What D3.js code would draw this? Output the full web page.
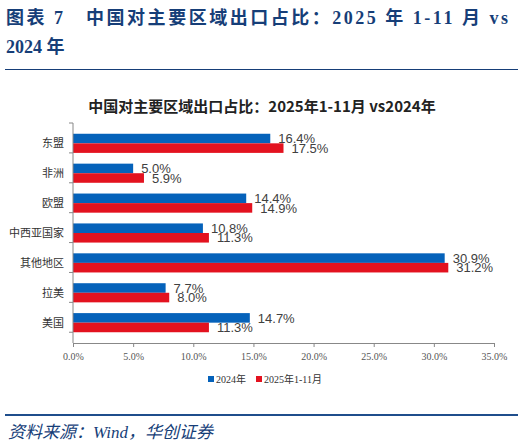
<!DOCTYPE html>
<html>
<head>
<meta charset="utf-8">
<script src="https://cdn.jsdelivr.net/npm/d3@7"></script>
<style>
  body { margin: 0; background: #fff; }
  svg { display: block; }
</style>
</head>
<body>
<svg id="chart"></svg>
<script>
// Chart data
const categories = ['东盟', '非洲', '欧盟', '中西亚国家', '其他地区', '拉美', '美国'];
const seriesNames = ['2024年', '2025年1-11月'];
const values2024 = [16.4, 5.0, 14.4, 10.8, 30.9, 7.7, 14.7];
const values2025 = [17.5, 5.9, 14.9, 11.3, 31.2, 8.0, 11.3];
const xTicks = [0, 5, 10, 15, 20, 25, 30, 35];

const colors = ['#0562BA', '#E3121F'];
const titleBlue = '#163E78';

const width = 524, height = 446;
const margin = { top: 123, right: 30, bottom: 103, left: 73 };

const svg = d3.select('#chart')
  .attr('width', width)
  .attr('height', height);

// Report header
svg.append('text')
  .attr('x', 6)
  .attr('y', 24)
  .attr('textLength', 502)
  .attr('lengthAdjust', 'spacing')
  .style('font-family', '"Liberation Serif", "Noto Sans CJK SC", serif')
  .style('font-size', '18px')
  .style('font-weight', 'bold')
  .style('fill', titleBlue)
  .text('图表 7　中国对主要区域出口占比：2025 年 1-11 月 vs');

svg.append('text')
  .attr('x', 6)
  .attr('y', 53)
  .style('font-family', '"Liberation Serif", "Noto Sans CJK SC", serif')
  .style('font-size', '18px')
  .style('font-weight', 'bold')
  .style('fill', titleBlue)
  .text('2024 年');

svg.append('line')
  .attr('x1', 5).attr('x2', 518)
  .attr('y1', 69.5).attr('y2', 69.5)
  .attr('stroke', titleBlue)
  .attr('stroke-width', 1);

// Chart title
svg.append('text')
  .attr('x', 262)
  .attr('y', 112)
  .attr('text-anchor', 'middle')
  .style('font-family', '"Noto Sans CJK SC", sans-serif')
  .style('font-size', '15px')
  .style('font-weight', 'bold')
  .style('fill', '#222')
  .text('中国对主要区域出口占比：2025年1-11月 vs2024年');

// Scales
const xScale = d3.scaleLinear()
  .domain([0, 35])
  .range([margin.left, 494]);

const yScale = d3.scaleBand()
  .domain(categories)
  .range([margin.top, height - margin.bottom])
  .padding(0.36);

const subScale = d3.scaleBand()
  .domain([0, 1])
  .range([0, yScale.bandwidth()]);

// Bars
const rows = categories.map((c, i) => ({ cat: c, vals: [values2024[i], values2025[i]] }));

const groups = svg.append('g')
  .selectAll('g')
  .data(rows)
  .join('g')
  .attr('transform', d => `translate(0,${yScale(d.cat)})`);

groups.selectAll('rect')
  .data(d => d.vals.map((v, k) => ({ v, k })))
  .join('rect')
  .attr('x', xScale(0))
  .attr('y', d => subScale(d.k))
  .attr('width', d => xScale(d.v) - xScale(0))
  .attr('height', subScale.bandwidth())
  .attr('fill', d => colors[d.k]);

groups.selectAll('text')
  .data(d => d.vals.map((v, k) => ({ v, k })))
  .join('text')
  .attr('x', d => xScale(d.v) + 8)
  .attr('y', d => subScale(d.k) + subScale.bandwidth() / 2)
  .attr('dy', '0.36em')
  .style('font-family', '"Liberation Sans", Arial, sans-serif')
  .style('font-size', '13px')
  .style('fill', '#404040')
  .text(d => d.v.toFixed(1) + '%');

// Y axis
const y0 = margin.top, y1 = height - margin.bottom;
const yAxisG = svg.append('g');
yAxisG.append('line')
  .attr('x1', xScale(0)).attr('x2', xScale(0))
  .attr('y1', y0).attr('y2', y1)
  .attr('stroke', '#888');
yAxisG.selectAll('.ytick')
  .data(d3.range(categories.length + 1))
  .join('line')
  .attr('class', 'ytick')
  .attr('x1', xScale(0) - 4).attr('x2', xScale(0))
  .attr('y1', i => y0 + i * yScale.step())
  .attr('y2', i => y0 + i * yScale.step())
  .attr('stroke', '#888');
yAxisG.selectAll('.ylabel')
  .data(categories)
  .join('text')
  .attr('class', 'ylabel')
  .attr('x', 64)
  .attr('y', d => yScale(d) + yScale.bandwidth() / 2)
  .attr('dy', '0.36em')
  .attr('text-anchor', 'end')
  .style('font-family', '"Noto Sans CJK SC", sans-serif')
  .style('font-size', '11px')
  .style('fill', '#333')
  .text(d => d);

// X axis
const xAxis = d3.axisBottom(xScale)
  .tickValues(xTicks)
  .tickSize(4)
  .tickSizeOuter(0)
  .tickPadding(6)
  .tickFormat(d => d.toFixed(1) + '%');

const xAxisG = svg.append('g')
  .attr('transform', `translate(0,${y1})`)
  .call(xAxis);
xAxisG.select('.domain').attr('stroke', '#888');
xAxisG.selectAll('.tick line').attr('stroke', '#888');
xAxisG.selectAll('.tick text')
  .style('font-family', '"Liberation Serif", serif')
  .style('font-size', '10px')
  .style('fill', '#555');

// Legend
const legend = svg.append('g')
  .attr('transform', 'translate(208,379)');
const legendX = [0, 48];
seriesNames.forEach((name, k) => {
  const g = legend.append('g').attr('transform', `translate(${legendX[k]},0)`);
  g.append('rect')
    .attr('x', 0).attr('y', -3)
    .attr('width', 6).attr('height', 6)
    .attr('fill', colors[k]);
  g.append('text')
    .attr('x', 8)
    .attr('y', 0)
    .attr('dy', '0.36em')
    .style('font-family', '"Liberation Serif", "Noto Sans CJK SC", serif')
    .style('font-size', '10px')
    .style('fill', '#333')
    .text(name);
});

// Footer
svg.append('line')
  .attr('x1', 5).attr('x2', 518)
  .attr('y1', 415).attr('y2', 415)
  .attr('stroke', '#1F4E8C')
  .attr('stroke-width', 2);

svg.append('text')
  .attr('x', 8)
  .attr('y', 438)
  .style('font-family', '"Liberation Serif", "Noto Sans CJK SC", serif')
  .style('font-size', '17px')
  .style('font-style', 'italic')
  .style('fill', titleBlue)
  .text('资料来源：Wind，华创证券');
</script>
</body>
</html>
